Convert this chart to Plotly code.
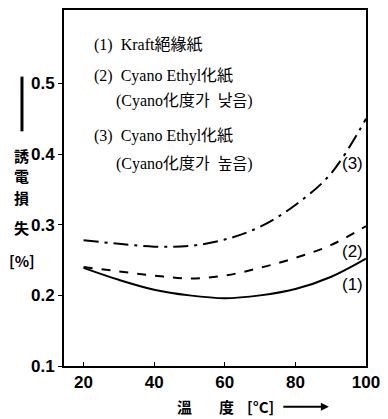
import plotly.graph_objects as go

temps = [20, 30, 40, 50, 60, 70, 80, 90, 100]
kraft = [0.239, 0.222, 0.208, 0.200, 0.196, 0.200, 0.209, 0.226, 0.252]
cyano_low = [0.240, 0.234, 0.228, 0.224, 0.228, 0.239, 0.253, 0.271, 0.298]
cyano_high = [0.278, 0.273, 0.269, 0.270, 0.279, 0.297, 0.328, 0.372, 0.450]

x_ticks = [20, 40, 60, 80, 100]
y_ticks = [0.1, 0.2, 0.3, 0.4, 0.5]

legend_lines = [
    "(1)  Kraft絕緣紙",
    "(2)  Cyano Ethyl化紙",
    "(Cyano化度가  낮음)",
    "(3)  Cyano Ethyl化紙",
    "(Cyano化度가  높음)",
]
curve_labels = ["(1)", "(2)", "(3)"]
y_title_chars = ["誘", "電", "損", "失", "[%]"]
x_title_parts = ["溫", "度", "[°C]"]

TXT = "Liberation Serif, Noto Sans CJK KR, serif"
TICK = "Liberation Sans, Arial, sans-serif"
CJK = "Noto Sans CJK KR, sans-serif"

fig = go.Figure()
for ys, dash in [(kraft, "solid"), (cyano_low, "dash"), (cyano_high, "longdashdot")]:
    fig.add_trace(go.Scatter(x=temps, y=ys, mode="lines",
                             line=dict(color="black", width=2, dash=dash, shape="spline", smoothing=1.0),
                             showlegend=False, hoverinfo="skip"))

ax = dict(showline=True, linecolor="black", linewidth=2, mirror=True,
          showgrid=False, zeroline=False, ticklen=4, tickcolor="black",
          ticklabeloverflow="allow",
          tickfont=dict(family=TICK, size=17, color="black", weight="bold"))

fig.update_xaxes(range=[14.46, 100], tickvals=x_ticks, ticktext=[str(v) for v in x_ticks],
                 ticks="inside", **ax)
fig.update_yaxes(range=[0.1, 0.604], tickvals=y_ticks, ticktext=[f"{v:.1f}" for v in y_ticks],
                 ticks="outside", **ax)

def px2paper(px, py):
    return (px - 64) / 309, (366 - py) / 358

# legend-like text block
leg_pos = [(93, 43), (93, 74), (115, 100), (93, 135), (115, 163)]
for t, (px, py) in zip(legend_lines, leg_pos):
    xp, yp = px2paper(px, py)
    fig.add_annotation(xref="paper", yref="paper", x=xp, y=yp,
                       text=t, showarrow=False, xanchor="left", yanchor="middle",
                       font=dict(family=TXT, size=16, color="black"))

# curve labels
for t, yv in zip(curve_labels, [0.216, 0.262, 0.387]):
    fig.add_annotation(x=99.6, y=yv, text=t, showarrow=False, xanchor="right", yanchor="middle",
                       font=dict(family=TICK, size=17, color="black"))

# y-axis title (vertical stacked)
x0, _ = px2paper(21, 0)
fig.add_shape(type="line", xref="paper", yref="paper",
              x0=x0, x1=x0, y0=px2paper(0, 75)[1], y1=px2paper(0, 130)[1],
              line=dict(color="black", width=3))
for ch, py in zip(y_title_chars, [154, 174, 197, 227, 260]):
    xp, yp = px2paper(21, py)
    fig.add_annotation(xref="paper", yref="paper", x=xp, y=yp,
                       text=ch, showarrow=False, xanchor="center", yanchor="middle",
                       font=dict(family=CJK, size=15, color="black", weight="bold"))

# x-axis title
for t, px in zip(x_title_parts, [187, 230, 265]):
    xp, yp = px2paper(px, 407)
    fig.add_annotation(xref="paper", yref="paper", x=xp, y=yp,
                       text=t, showarrow=False, xanchor="center", yanchor="middle",
                       font=dict(family=CJK, size=15, color="black", weight="bold"))
ax1, ay = px2paper(335, 407)
fig.add_annotation(xref="paper", yref="paper", x=ax1, y=ay, ax=-47, ay=0,
                   text="", showarrow=True,
                   arrowhead=2, arrowsize=0.8, arrowwidth=2, arrowcolor="black")

fig.update_layout(width=388, height=419, margin=dict(l=64, r=15, t=8, b=53),
                  plot_bgcolor="white", paper_bgcolor="white")
fig.write_html("out.html")
